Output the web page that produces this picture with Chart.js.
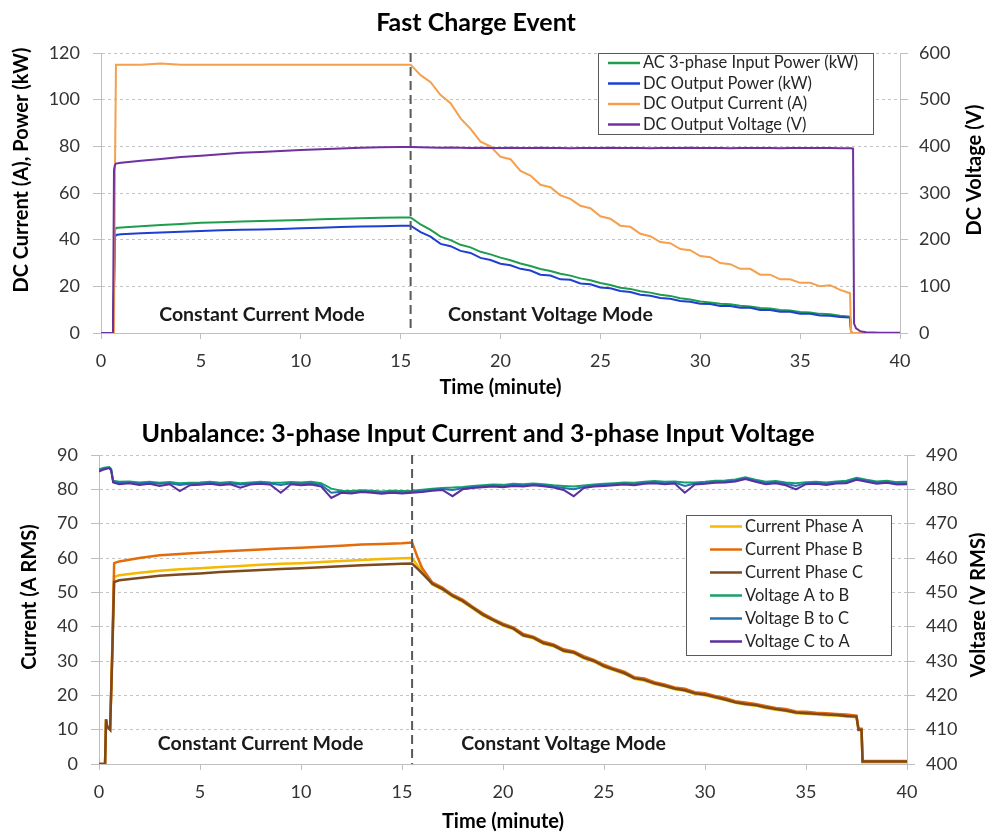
<!DOCTYPE html>
<html><head><meta charset="utf-8">
<script src="https://cdn.jsdelivr.net/npm/chart.js@4.4.1/dist/chart.umd.min.js"></script>
<style>
html,body{margin:0;padding:0;background:#fff;}
#wrap{position:relative;width:985px;height:835px;overflow:hidden;background:#fff;}
#c1{position:absolute;left:0;top:0;}
#c2{position:absolute;left:0;top:400px;}
</style></head><body>
<div id="wrap"><canvas id="c1" width="985" height="400"></canvas><canvas id="c2" width="985" height="435"></canvas></div>
<script>
// ---------- Top chart: Fast Charge Event ----------
const tTop = [0,0.6,0.65,0.7,0.75,
 1,2,3,4,5,6,7,8,9,10,11,12,13,14,15,
 15.5,16,16.5,17,17.5,18,18.5,19,19.5,20,
 20.5,21,21.5,22,22.5,23,23.5,24,24.5,25,
 25.5,26,26.5,27,27.5,28,28.5,29,29.5,30,
 30.5,31,31.5,32,32.5,33,33.5,34,34.5,35,
 35.5,36,36.5,37,37.5,
 37.55,37.65,37.7,37.8,38,38.3,39,40];
const acInputPower = [0,0,20,44,45,
 45.2,45.8,46.3,46.7,47.2,47.5,47.8,48,48.2,48.4,48.7,49,49.2,49.4,49.5,
 49.5,46.5,44.2,41.3,39.8,37.8,36.7,34.8,33.7,32.3,
 31.2,29.8,28.7,27.4,26.6,25.4,24.6,23.4,22.6,21.4,
 20.6,19.4,18.9,17.9,17.3,16.4,15.9,14.9,14.4,13.5,
 13.1,12.5,12.3,11.7,11.4,10.7,10.5,9.9,9.6,9.0,
 8.8,8.2,8.0,7.4,7.0,
 0.5,0,0,0,0,0,0,0];
const dcOutputPower = [0,0,18,41,42,
 42.3,42.7,43.1,43.4,43.7,44,44.2,44.4,44.6,44.9,45.1,45.4,45.6,45.8,46,
 46,43.2,41.3,38.2,37.2,35.2,34.3,32.2,31.3,29.7,
 29.0,27.5,26.8,25.0,24.6,23.0,22.8,21.2,20.9,19.5,
 19.2,18.0,17.6,16.4,16.0,15.0,14.7,13.7,13.4,12.5,
 12.4,11.6,11.6,10.8,10.8,9.9,9.9,9.1,9.1,8.3,
 8.2,7.5,7.4,6.9,6.6,
 0.5,0,0,0,0,0,0,0];
const dcOutputCurrent = [0,0,0,70,115,
 115,115,115.5,115,115,115,115,115,115,115,115,115,115,115,115,
 115,110.5,107.5,102,98.5,92,87.5,82,80,75.5,
 74.5,69.5,67.5,63.5,62.5,59,57.5,54.5,53.5,50,
 49,46,45.5,42.5,41.5,39,38.5,36,35.5,33,
 32.5,30,29.5,27.5,27.5,25,25,23,23,21.5,
 21.5,20,20.5,18.5,17,
 0,0,0,0,0,0,0,0];
const dcOutputVoltage = [0,0,350,360,363,
 365,369,373,377,380,383,386,388,390,392,394,395.5,397,398,398.5,
 398.5,398,397.5,397,397.5,397,396.5,397,396.5,396.5,
 397,396.5,396.5,397,396.5,396.5,396,396.5,396.5,396.5,
 397,396.5,396.5,396.5,396,396.5,396.5,396.5,397,396.5,
 396.5,396.5,396,396.5,396.5,396.5,396.5,396,396.5,396.5,
 396.5,396.5,396.5,396,396,
 396,395,20,10,4,1.5,0.5,0.5];

// ---------- Bottom chart: Unbalance ----------
const tCur = [0,0.3,0.35,0.4,0.55,0.65,0.75,
 1,2,3,4,5,6,7,8,9,10,11,12,13,14,15,
 15.5,15.75,16,
 16.5,17,17.5,18,18.5,19,19.5,20,20.5,21,
 21.5,22,22.5,23,23.5,24,24.5,25,25.5,26,
 26.5,27,27.5,28,28.5,29,29.5,30,30.5,31,
 31.5,32,32.5,33,33.5,34,34.5,35,35.5,36,
 36.5,37,37.5,
 37.6,37.75,37.8,40];
const currentA = [0,0,13,11,10,31,54.5,
 55,55.7,56.3,56.7,57,57.4,57.7,58,58.3,58.5,58.8,59.1,59.4,59.7,59.9,
 60,58,56,
 52.3,50.8,48.8,47.3,45.3,43.3,41.8,40.3,39.3,37.3,
 36.6,35,34.3,32.8,32.3,30.8,29.8,28.3,27.3,26.3,
 24.8,24.3,23.3,22.6,21.8,21.3,20.4,20,19.3,18.6,
 17.8,17.3,17,16.3,15.8,15.4,14.8,14.6,14.4,14.2,
 14.1,13.8,13.6,
 9.8,9.8,0.5,0.5];
const currentB = [0,0,13,11,10,32,58.5,
 59,60,60.8,61.2,61.5,61.9,62.2,62.5,62.8,63,63.3,63.6,63.9,64.1,64.3,
 64.5,60.5,57,
 52.9,51.4,49.3,47.9,45.8,43.9,42.3,40.9,39.8,37.9,
 37.1,35.6,34.8,33.4,32.8,31.4,30.3,28.9,27.8,26.9,
 25.3,24.9,23.8,23.2,22.3,21.9,20.9,20.6,19.8,19.2,
 18.3,17.9,17.5,16.9,16.3,16,15.3,15.2,14.9,14.8,
 14.6,14.4,14.1,
 10.3,10.3,0.9,0.9];
const currentC = [0,0,13,11,10,30,53,
 53.5,54.2,54.8,55.2,55.5,55.9,56.2,56.5,56.8,57,57.3,57.6,57.9,58.1,58.3,
 58.4,57,55.5,
 52.5,51,49,47.5,45.5,43.5,42,40.5,39.5,37.5,
 36.8,35.2,34.5,33,32.5,31,30,28.5,27.5,26.5,
 25,24.5,23.5,22.8,22,21.5,20.6,20.2,19.5,18.8,
 18,17.5,17.2,16.5,16,15.6,15,14.8,14.6,14.4,
 14.3,14,13.8,
 10,10,0.7,0.7];
const tVolt = [0,0.25,0.5,0.6,0.7,
 1,1.5,2,2.5,3,3.5,4,4.5,5,5.5,
 6,6.5,7,7.5,8,8.5,9,9.5,10,10.5,
 11,11.5,12,12.5,13,13.5,14,14.5,15,15.5,
 16,16.5,17,17.5,18,18.5,19,19.5,20,20.5,
 21,21.5,22,22.5,23,23.5,24,24.5,25,25.5,
 26,26.5,27,27.5,28,28.5,29,29.5,30,30.5,
 31,31.5,32,32.5,33,33.5,34,34.5,35,35.5,
 36,36.5,37,37.5,38,38.5,39,39.5,40];
const voltAB = [485.8,486.3,486.5,486,482.5,
 482.2,482.3,482,482.2,481.9,482.1,481.8,481.9,482,482.2,
 481.9,482.1,481.8,482,482.2,482,481.9,482.1,482,482.2,
 481.8,480.2,479.6,479.5,479.7,479.6,479.4,479.6,479.5,479.6,
 479.9,480.2,480.4,480.5,480.7,481,481.2,481.4,481.3,481.6,
 481.5,481.7,481.5,481.2,481,480.8,481.1,481.4,481.6,481.8,
 482,481.9,482.2,482.4,482.2,482.3,482,482,482.2,482.5,
 482.6,482.9,483.5,482.8,482.2,482.4,482,481.8,482.1,482.2,
 482,482.3,482.5,483.4,482.8,482.3,482.5,482.1,482.2];
const voltBC = [485.5,486,486.3,485.8,482.2,
 481.9,482,481.7,481.9,481.6,481.8,481.3,481.6,481.7,481.9,
 481.6,481.8,481.4,481.7,481.9,481.7,481.3,481.8,481.6,481.8,
 481.3,479,479.3,479.1,479.4,479.3,479,479.3,479.1,479.3,
 479.5,479.9,480.1,479.8,480.3,480.7,480.9,481.1,480.9,481.3,
 481.1,481.4,481.2,480.8,480.4,480,480.7,481.1,481.3,481.5,
 481.7,481.5,481.9,482.1,481.8,482,481,481.7,481.9,482.2,
 482.3,482.6,483.2,482.5,481.8,482.1,481.6,481,481.8,481.9,
 481.6,482,482.1,483.1,482.5,481.9,482.2,481.7,481.8];
const voltCA = [485.2,485.8,486.2,485.5,482,
 481.5,481.8,481.3,481.6,481,481.5,479.5,481.2,481.3,481.6,
 481.2,481.5,480.5,481.4,481.6,481.3,479,481.5,481.2,481.4,
 480.8,477.5,479,478.8,479.2,479,478.7,479,478.8,479,
 479.2,479.6,479.8,478,480,480.4,480.6,480.8,480.6,481,
 480.8,481.2,480.9,480.5,479.8,478,480.4,480.8,481,481.2,
 481.4,481.2,481.6,481.8,481.5,481.7,479,481.4,481.6,481.9,
 482,482.3,483,482.2,481.5,481.8,481.2,480,481.5,481.6,
 481.3,481.7,481.8,482.8,482.2,481.6,481.9,481.4,481.5];

const modeBoundary = 15.5;

// ---------- helpers ----------
const FONT = 'Lato';
const pts = (xs, ys) => xs.map((x, i) => ({x: x, y: ys[i]}));
const AXIS = '#bfbfbf', GRID = '#c4c4c4', TICKC = '#333';

const decor = {
  id: 'decor',
  afterDatasetsDraw(chart, args, o) {
    const {ctx, chartArea: a, scales} = chart;
    const xs = scales.x, ys = scales.y;
    ctx.save();
    const px = xs.getPixelForValue(o.vline);
    ctx.strokeStyle = '#595959'; ctx.lineWidth = 2; ctx.setLineDash([9, 5]);
    ctx.beginPath(); ctx.moveTo(px, a.top); ctx.lineTo(px, a.bottom); ctx.stroke();
    ctx.setLineDash([]);
    ctx.font = 'bold 19.5px ' + FONT; ctx.fillStyle = '#1a1a1a';
    ctx.textAlign = 'center'; ctx.textBaseline = 'middle';
    o.modes.forEach(m => ctx.fillText(m.text, xs.getPixelForValue(m.x), ys.getPixelForValue(m.y)));
    const L = o.legend;
    ctx.fillStyle = '#fff'; ctx.fillRect(L.x, L.y, L.w, L.h);
    ctx.strokeStyle = '#5a5a5a'; ctx.lineWidth = 1; ctx.strokeRect(L.x + 0.5, L.y + 0.5, L.w, L.h);
    ctx.font = L.font; ctx.textAlign = 'left'; ctx.textBaseline = 'middle';
    chart.data.datasets.forEach((ds, i) => {
      const yy = L.y + L.first + i * L.row;
      ctx.strokeStyle = ds.borderColor; ctx.lineWidth = 2.5;
      ctx.beginPath(); ctx.moveTo(L.x + L.l0, yy); ctx.lineTo(L.x + L.l1, yy); ctx.stroke();
      ctx.fillStyle = '#262626'; ctx.fillText(ds.label, L.x + L.tx, yy);
    });
    o.texts.forEach(t => {
      ctx.save(); ctx.translate(t.x, t.y); ctx.rotate(t.rot || 0);
      ctx.font = t.font; ctx.fillStyle = '#000'; ctx.textAlign = 'center'; ctx.textBaseline = 'middle';
      ctx.fillText(t.text, 0, 0); ctx.restore();
    });
    ctx.restore();
  }
};

function line(label, xs, ys, color, axis, order, w) {
  return {label: label, data: pts(xs, ys), borderColor: color, backgroundColor: color,
    borderWidth: w, pointRadius: 0, tension: 0, fill: false, yAxisID: axis, order: order};
}
const tickFont = {family: FONT, size: 18};
const titleFont = {family: FONT, size: 20, weight: 'bold'};

function xScale(h, padBottom) {
  return {type: 'linear', min: 0, max: 40,
    ticks: {stepSize: 5, font: tickFont, color: TICKC, padding: 11, maxRotation: 0, autoSkip: false},
    grid: {drawOnChartArea: false, tickLength: 6, tickColor: AXIS},
    border: {color: AXIS},
    title: {display: true, text: 'Time (minute)', font: titleFont, color: '#000', padding: {top: 0, bottom: padBottom}},
    afterFit(s) { s.height = h; }};
}
function yLeft(min, max, step, w) {
  return {type: 'linear', position: 'left', min: min, max: max,
    ticks: {stepSize: step, font: tickFont, color: TICKC, padding: 13},
    grid: {color: GRID, tickColor: AXIS, tickLength: 8},
    border: {color: AXIS, dash: [3, 3]},
    afterFit(s) { s.width = w; }};
}
function yRight(min, max, step, w) {
  return {type: 'linear', position: 'right', min: min, max: max,
    ticks: {stepSize: step, font: tickFont, color: TICKC, padding: 11},
    grid: {drawOnChartArea: false, tickColor: AXIS, tickLength: 8},
    border: {color: AXIS},
    afterFit(s) { s.width = w; }};
}

new Chart(document.getElementById('c1'), {
  type: 'line',
  data: {datasets: [
    line('AC 3-phase Input Power (kW)', tTop, acInputPower, '#1e9e4c', 'y', 3, 2),
    line('DC Output Power (kW)', tTop, dcOutputPower, '#1f3fd2', 'y', 2, 2),
    line('DC Output Current (A)', tTop, dcOutputCurrent, '#f5a04c', 'y', 1, 2),
    line('DC Output Voltage (V)', tTop, dcOutputVoltage, '#7030a0', 'y2', 0, 2)
  ]},
  options: {
    responsive: false, animation: false, devicePixelRatio: 1,
    layout: {padding: {top: 53, left: 0, right: 0, bottom: 0}},
    plugins: {legend: {display: false}, title: {display: false}, tooltip: {enabled: false},
      decor: {
        vline: modeBoundary,
        modes: [{text: 'Constant Current Mode', x: 8.06, y: 7.7}, {text: 'Constant Voltage Mode', x: 22.5, y: 7.7}],
        legend: {x: 598, y: 53, w: 275, h: 81, first: 10, row: 20.5, l0: 10, l1: 42, tx: 45, font: '16.5px ' + FONT},
        texts: [
          {text: 'Fast Charge Event', x: 476, y: 23, font: 'bold 25px ' + FONT},
          {text: 'DC Current (A), Power (kW)', x: 22, y: 170, rot: -Math.PI / 2, font: 'bold 20px ' + FONT},
          {text: 'DC Voltage (V)', x: 975, y: 170, rot: -Math.PI / 2, font: 'bold 20px ' + FONT}
        ]
      }},
    scales: {x: xScale(67, 0), y: yLeft(0, 120, 20, 101), y2: yRight(0, 600, 100, 85)}
  },
  plugins: [decor]
});

new Chart(document.getElementById('c2'), {
  type: 'line',
  data: {datasets: [
    line('Current Phase A', tCur, currentA, '#f6b800', 'y', 5, 2.5),
    line('Current Phase B', tCur, currentB, '#e36c0a', 'y', 4, 2.5),
    line('Current Phase C', tCur, currentC, '#7d4a1e', 'y', 3, 2.5),
    line('Voltage A to B', tVolt, voltAB, '#17a06a', 'y2', 2, 2),
    line('Voltage B to C', tVolt, voltBC, '#2472b0', 'y2', 1, 2),
    line('Voltage C to A', tVolt, voltCA, '#5c2f9e', 'y2', 0, 2)
  ]},
  options: {
    responsive: false, animation: false, devicePixelRatio: 1,
    layout: {padding: {top: 55, left: 0, right: 0, bottom: 0}},
    plugins: {legend: {display: false}, title: {display: false}, tooltip: {enabled: false},
      decor: {
        vline: modeBoundary,
        modes: [{text: 'Constant Current Mode', x: 8.0, y: 6}, {text: 'Constant Voltage Mode', x: 23.0, y: 6}],
        legend: {x: 686, y: 115, w: 205, h: 140, first: 11.5, row: 23, l0: 24, l1: 56, tx: 59, font: '16.5px ' + FONT},
        texts: [
          {text: 'Unbalance: 3-phase Input Current and 3-phase Input Voltage', x: 478, y: 34, font: 'bold 25px ' + FONT},
          {text: 'Current (A RMS)', x: 30, y: 197, rot: -Math.PI / 2, font: 'bold 20px ' + FONT},
          {text: 'Voltage (V RMS)', x: 979, y: 205, rot: -Math.PI / 2, font: 'bold 20px ' + FONT}
        ]
      }},
    scales: {x: xScale(71, 1), y: yLeft(0, 90, 10, 99), y2: yRight(400, 490, 10, 78)}
  },
  plugins: [decor]
});
</script>
</body></html>
